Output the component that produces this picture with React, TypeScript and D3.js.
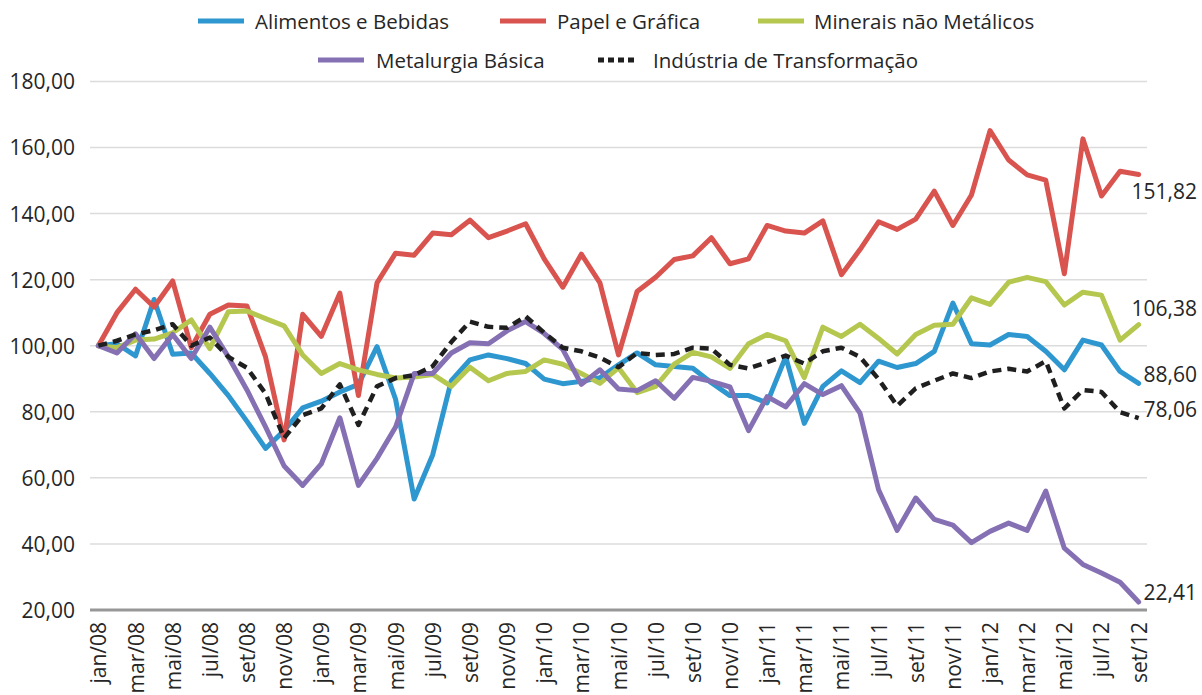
import React from 'react';
import * as d3 from 'd3';

// month labels (pt-BR), jan/08 .. set/12
const monthAbbr = ['jan', 'fev', 'mar', 'abr', 'mai', 'jun', 'jul', 'ago', 'set', 'out', 'nov', 'dez'];
const years = ['08', '09', '10', '11', '12'];
const categories: string[] = [];
years.forEach((yr) => monthAbbr.forEach((m) => categories.push(`${m}/${yr}`)));
categories.splice(57); // stops at set/12

const yTicks = [20, 40, 60, 80, 100, 120, 140, 160, 180];

const alimentos = [
  100, 100.6, 96.9, 114, 97.4, 97.8, 91.6, 84.9, 77.1, 68.9, 74.3, 81.2,
  83.2, 86, 88.3, 99.7, 83.8, 53.6, 67, 89.4, 95.7, 97.2, 96.1, 94.6,
  89.9, 88.5, 89.2, 90.3, 94.2, 97.8, 94.2, 93.7, 93.2, 88.8, 84.9, 84.9,
  82.7, 96.6, 76.5, 87.7, 92.4, 88.8, 95.3, 93.4, 94.6, 98.3, 112.9, 100.6,
  100.2, 103.4, 102.8, 98.3, 92.7, 101.7, 100.2, 92.2, 88.6
];
const papel = [
  100, 110, 117.1, 111.7, 119.6, 99.4, 109.5, 112.3, 112, 96.6, 71.5, 109.5,
  102.8, 115.9, 84.9, 119, 128, 127.4, 134.1, 133.6, 138, 132.7, 134.7, 136.9,
  126.3, 117.7, 127.7, 119, 97.2, 116.4, 120.7, 126.1, 127.2, 132.7, 124.8, 126.3,
  136.4, 134.7, 134.1, 137.8, 121.5, 129.1, 137.5, 135.2, 138.3, 146.8, 136.4, 145.6,
  165.1, 156.2, 151.7, 150.1, 121.8, 162.6, 145.3, 152.8, 151.82
];
const minerais = [
  100, 99.4, 101.7, 102, 103.9, 107.8, 99.1, 110.3, 110.5, 108.2, 106, 97.2,
  91.6, 94.6, 92.7, 91.3, 90.2, 90.5, 91.3, 87.7, 93.5, 89.4, 91.6, 92.2,
  95.7, 94.4, 91.6, 88.6, 93.3, 85.8, 87.7, 94.4, 98, 96.6, 93.1, 100.6,
  103.4, 101.5, 90.3, 105.6, 102.8, 106.5, 102.2, 97.5, 103.4, 106.2, 106.5, 114.5,
  112.5, 119.2, 120.7, 119.4, 112.3, 116.2, 115.3, 101.7, 106.38
];
const metalurgia = [
  100, 97.8, 103.6, 96.1, 103.4, 96.1, 105.6, 96.6, 86.6, 75.4, 63.6, 57.7,
  64.2, 78.2, 57.7, 65.9, 75.4, 91.6, 91.6, 97.8, 100.9, 100.6, 104.5, 107.3,
  103.7, 98.9, 88.3, 92.7, 86.9, 86.4, 89.4, 84.1, 90.4, 89.2, 87.5, 74.3,
  84.6, 81.5, 88.5, 85.2, 87.9, 79.6, 56.4, 44.1, 53.9, 47.4, 45.7, 40.4,
  43.8, 46.3, 44.1, 56, 38.7, 33.8, 31.2, 28.4, 22.41
];
const industria = [
  100, 101.5, 103.4, 104.7, 106.5, 100, 102.5, 96.6, 93.3, 85.5, 72, 79,
  81, 88.3, 76, 87.7, 90.2, 91.1, 93.8, 101.1, 107.3, 105.7, 105.4, 108.9,
  103.9, 99.4, 98.3, 96.4, 93.5, 97.8, 97.2, 97.5, 99.4, 99.1, 94.2, 93.1,
  95, 97, 94.6, 98.3, 99.4, 96.6, 89.9, 81.8, 87.1, 89.4, 91.6, 90.2,
  92.2, 93, 92.2, 95.3, 81, 86.6, 86, 79.9, 78.06
];

const series = [
  { name: 'Alimentos e Bebidas', values: alimentos, color: '#2e97cf', dash: null, labelDy: -9 },
  { name: 'Papel e Gráfica', values: papel, color: '#d9534f', dash: null, labelDy: 17 },
  { name: 'Minerais não Metálicos', values: minerais, color: '#b6c74f', dash: null, labelDy: -17 },
  { name: 'Metalurgia Básica', values: metalurgia, color: '#8470b3', dash: null, labelDy: -10 },
  { name: 'Indústria de Transformação', values: industria, color: '#1f1f1f', dash: '9 6', labelDy: -9 },
];

// legend placement: [swatch x, text x, row y]
const legendPos = [
  [198, 255, 21],
  [500, 557, 21],
  [758, 814, 21],
  [318, 376, 60],
  [598, 653, 60],
];

const W = 1202;
const H = 695;
const FONT = "'Open Sans', 'Noto Sans', sans-serif";
const TEXT = '#262626';

export default function App() {
  const x = d3.scalePoint<string>().domain(categories).range([90, 1147]).padding(0.45);
  const y = d3.scaleLinear().domain([20, 180]).range([610, 81.4]);
  const fmt = (v: number) => v.toFixed(2).replace('.', ',');

  const line = d3.line<number>()
    .x((_, i) => x(categories[i]) as number)
    .y((d) => y(d));

  const last = categories.length - 1;

  return (
    <svg width={W} height={H} style={{ position: 'absolute', left: 0, top: 0, background: '#fff' }}
      fontFamily={FONT}>
      {/* gridlines */}
      {yTicks.filter((t) => t !== 20).map((t) => (
        <line key={t} x1={90} x2={1147} y1={y(t)} y2={y(t)} stroke="#dcdcdc" strokeWidth={1.5} />
      ))}
      {/* y tick labels */}
      {yTicks.map((t) => (
        <text key={t} x={75} y={y(t)} textAnchor="end" dominantBaseline="central" fontSize={21} fill={TEXT}>
          {fmt(t)}
        </text>
      ))}
      {/* x axis */}
      <line x1={90} x2={1147} y1={y(20)} y2={y(20)} stroke="#979797" strokeWidth={3} />
      {categories.map((c, i) => i % 2 === 0 && (
        <text key={c} transform={`translate(${x(c)},622) rotate(-90)`} textAnchor="end"
          dominantBaseline="central" fontSize={21} fill={TEXT}>
          {c}
        </text>
      ))}
      {/* series */}
      {series.map((s) => (
        <path key={s.name} d={line(s.values) || ''} fill="none" stroke={s.color}
          strokeWidth={s.dash ? 4.5 : 5} strokeDasharray={s.dash || undefined}
          strokeLinejoin="round" strokeLinecap={s.dash ? 'butt' : 'round'} />
      ))}
      {/* end labels */}
      {series.map((s) => (
        <text key={s.name} x={1197} y={y(s.values[last]) + s.labelDy} textAnchor="end"
          dominantBaseline="central" fontSize={21} fill={TEXT}>
          {fmt(s.values[last])}
        </text>
      ))}
      {/* legend */}
      {series.map((s, i) => {
        const [sx, tx, ly] = legendPos[i];
        return (
          <g key={s.name}>
            <line x1={sx} x2={sx + (s.dash ? 37 : 46)} y1={ly} y2={ly} stroke={s.color}
              strokeWidth={5} strokeDasharray={s.dash ? '6 4' : undefined} />
            <text x={tx} y={ly} dominantBaseline="central" fontSize={20.5} fill={TEXT}>{s.name}</text>
          </g>
        );
      })}
    </svg>
  );
}
